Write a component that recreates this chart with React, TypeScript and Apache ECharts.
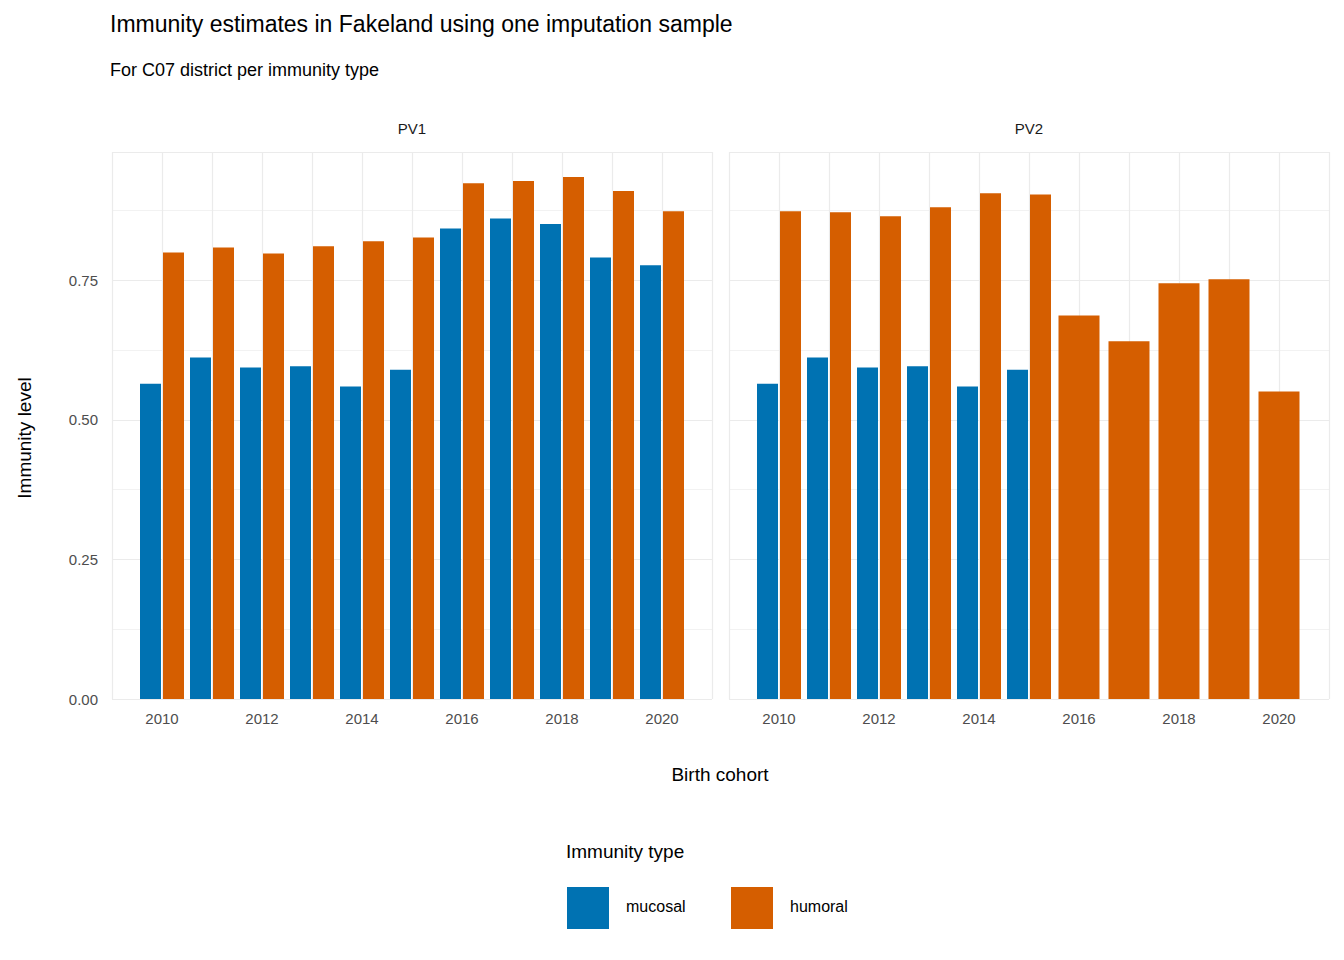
import React, { useEffect, useRef } from 'react'
import * as echarts from 'echarts'

const YEARS = [2010, 2011, 2012, 2013, 2014, 2015, 2016, 2017, 2018, 2019, 2020]
const PV1_MUCOSAL = [0.565, 0.612, 0.594, 0.596, 0.56, 0.59, 0.843, 0.861, 0.851, 0.791, 0.777]
const PV1_HUMORAL = [0.8, 0.809, 0.798, 0.811, 0.82, 0.827, 0.924, 0.928, 0.935, 0.91, 0.874]
const PV2_MUCOSAL = [0.565, 0.612, 0.594, 0.596, 0.56, 0.59, null, null, null, null, null]
const PV2_HUMORAL = [0.874, 0.872, 0.865, 0.881, 0.906, 0.904, 0.687, 0.641, 0.745, 0.752, 0.551]
const Y_TICKS = [0, 0.25, 0.5, 0.75]

const BLUE = '#0072B2'
const ORANGE = '#D55E00'
const FONT = 'Liberation Sans, Arial, sans-serif'

// dodge offsets in years: 0 = left of pair, 1 = right of pair, 2 = alone
const OFFSETS = [[-0.44, -0.02], [0.02, 0.44], [-0.41, 0.41]]

const renderBar = (params: any, api: any) => {
  const x = api.value(0)
  const y = api.value(1)
  const [a, b] = OFFSETS[api.value(2)]
  const p0 = api.coord([x + a, y])
  const p1 = api.coord([x + b, 0])
  return {
    type: 'rect',
    shape: { x: p0[0], y: p0[1], width: p1[0] - p0[0], height: p1[1] - p0[1] },
    style: { fill: api.visual('color') },
  }
}

const App = () => {
  const ref = useRef<HTMLDivElement>(null)

  useEffect(() => {
    if (!ref.current) return
    const chart = echarts.init(ref.current, null, { renderer: 'svg' })

    const mucosal1 = YEARS.map((yr, i) => [yr, PV1_MUCOSAL[i], 0])
    const humoral1 = YEARS.map((yr, i) => [yr, PV1_HUMORAL[i], 1])
    const mucosal2 = YEARS.map((yr, i) => [yr, PV2_MUCOSAL[i], 0]).filter((d) => d[1] !== null)
    const humoral2 = YEARS.map((yr, i) => [yr, PV2_HUMORAL[i], PV2_MUCOSAL[i] === null ? 2 : 1])

    const xAxis = (gridIndex: number) => ({
      type: 'value',
      gridIndex,
      min: 2009,
      max: 2021,
      interval: 1,
      axisLine: { show: false },
      axisTick: { show: false },
      splitLine: { show: true, lineStyle: { color: '#ebebeb', width: 1.2 } },
      axisLabel: {
        color: '#4d4d4d',
        fontSize: 15,
        fontFamily: FONT,
        margin: 12,
        formatter: (v: number) => (v >= 2010 && v <= 2020 && v % 2 === 0 ? String(v) : ''),
      },
    })
    const yAxis = (gridIndex: number) => ({
      type: 'value',
      gridIndex,
      min: 0,
      max: 0.98,
      interval: 0.25,
      axisLine: { show: false },
      axisTick: { show: false },
      splitLine: { show: true, lineStyle: { color: '#ebebeb', width: 1.2 } },
      minorTick: { show: false, splitNumber: 2 },
      minorSplitLine: { show: true, lineStyle: { color: '#f2f2f2', width: 1 } },
      axisLabel: {
        show: gridIndex === 0,
        color: '#4d4d4d',
        fontSize: 15,
        fontFamily: FONT,
        margin: 14,
        formatter: (v: number) => (Y_TICKS.includes(v) ? v.toFixed(2) : ''),
      },
    })
    const series = (data: any[], color: string, idx: number) => ({
      type: 'custom',
      xAxisIndex: idx,
      yAxisIndex: idx,
      itemStyle: { color },
      renderItem: renderBar,
      encode: { x: 0, y: 1 },
      data,
    })
    const text = (x: number, y: number, t: string, size: number, extra: any = {}) => ({
      type: 'text',
      x,
      y,
      ...extra,
      style: { text: t, fontSize: size, fontFamily: FONT, fill: '#000', ...(extra.style || {}) },
    })

    chart.setOption({
      animation: false,
      grid: [
        { left: 112, top: 152, width: 600, height: 547 },
        { left: 729, top: 152, width: 600, height: 547 },
      ],
      xAxis: [xAxis(0), xAxis(1)],
      yAxis: [yAxis(0), yAxis(1)],
      series: [
        series(mucosal1, BLUE, 0),
        series(humoral1, ORANGE, 0),
        series(mucosal2, BLUE, 1),
        series(humoral2, ORANGE, 1),
      ],
      graphic: [
        text(110, 12, 'Immunity estimates in Fakeland using one imputation sample', 23),
        text(110, 61, 'For C07 district per immunity type', 18),
        text(412, 121, 'PV1', 15, { style: { textAlign: 'center', fill: '#1a1a1a' } }),
        text(1029, 121, 'PV2', 15, { style: { textAlign: 'center', fill: '#1a1a1a' } }),
        text(720, 765, 'Birth cohort', 19, { style: { textAlign: 'center' } }),
        text(15, 438, 'Immunity level', 19, {
          rotation: Math.PI / 2,
          style: { textAlign: 'center', textVerticalAlign: 'top' },
        }),
        text(566, 842, 'Immunity type', 19),
        { type: 'rect', shape: { x: 567, y: 887, width: 42, height: 42 }, style: { fill: BLUE } },
        { type: 'rect', shape: { x: 731, y: 887, width: 42, height: 42 }, style: { fill: ORANGE } },
        text(626, 898, 'mucosal', 16),
        text(790, 898, 'humoral', 16),
      ],
    })

    return () => chart.dispose()
  }, [])

  return (
    <div
      ref={ref}
      style={{ position: 'absolute', left: 0, top: 0, width: 1344, height: 960, background: '#fff' }}
    />
  )
}

export default App
